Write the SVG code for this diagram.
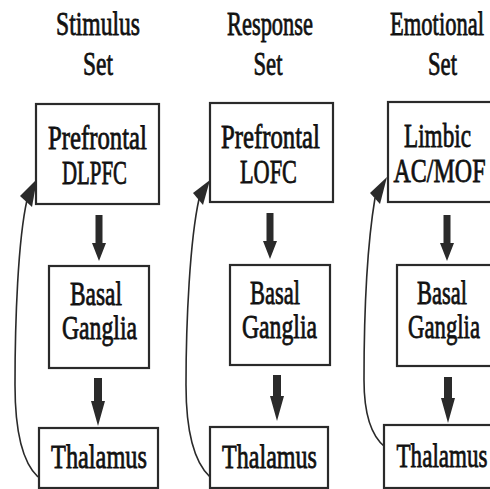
<svg xmlns="http://www.w3.org/2000/svg" width="490" height="489" viewBox="0 0 490 489">
<style>
text{font-family:"Liberation Serif","Times New Roman",serif;font-size:34px;fill:#111;text-anchor:middle;stroke:#111;stroke-width:0.8}
.box{fill:#fff;stroke:#2a2a2a;stroke-width:2.2}
.curve{fill:none;stroke:#2a2a2a;stroke-width:1.6}
.arr{fill:#2a2a2a}
</style>
<rect width="490" height="489" fill="#fff"/>
<g id="headers">
<text transform="translate(98,35) scale(0.695,1)">Stimulus</text>
<text transform="translate(98,75) scale(0.69,1)">Set</text>
<text transform="translate(270,35) scale(0.66,1)">Response</text>
<text transform="translate(268,75) scale(0.667,1)">Set</text>
<text transform="translate(437,35) scale(0.663,1)">Emotional</text>
<text transform="translate(442.5,75) scale(0.667,1)">Set</text>
</g>
<g id="connectors">
<path class="curve" d="M38,477 C22,462 15,430 15,385 C15,320 18,240 27,200"/>
<polygon class="arr" points="37,179 20,196 32,207"/>
<path class="curve" d="M210,477 C194,462 186,430 186,385 C186,320 190,240 199,199"/>
<polygon class="arr" points="210,180 193,193 203,205"/>
<path class="curve" d="M385,447 C370,435 364,410 364,380 C364,310 368,240 375,198"/>
<polygon class="arr" points="387,177 370,193 380,204"/>
<polygon class="arr" points="95.5,215 102.5,215 102.5,243 106,243 99,261 92,243 95.5,243"/>
<polygon class="arr" points="94,378 102,378 102,401 105,401 98,426 91,401 94,401"/>
<polygon class="arr" points="266.5,213 273.5,213 273.5,241 277,241 270,259 263,241 266.5,241"/>
<polygon class="arr" points="273,375 281,375 281,396 284,396 277,421 270,396 273,396"/>
<polygon class="arr" points="443.5,215 450.5,215 450.5,243 454,243 447,261 440,243 443.5,243"/>
<polygon class="arr" points="444,377 452,377 452,398 455,398 448,423 441,398 444,398"/>
</g>
<g id="stim-pfc">
<rect class="box" x="36" y="104" width="123" height="100"/>
<text transform="translate(97.5,149) scale(0.728,1)">Prefrontal</text>
<text transform="translate(94.5,184) scale(0.614,1)">DLPFC</text>
</g>
<g id="stim-bg">
<rect class="box" x="49" y="266" width="100" height="102"/>
<text transform="translate(96,305) scale(0.689,1)">Basal</text>
<text transform="translate(99.5,339) scale(0.697,1)">Ganglia</text>
</g>
<g id="stim-th">
<rect class="box" x="39" y="428" width="119" height="60"/>
<text transform="translate(99,468) scale(0.716,1)">Thalamus</text>
</g>
<g id="resp-pfc">
<rect class="box" x="210" y="103" width="123" height="99"/>
<text transform="translate(270.5,148) scale(0.728,1)">Prefrontal</text>
<text transform="translate(268.5,183) scale(0.656,1)">LOFC</text>
</g>
<g id="resp-bg">
<rect class="box" x="230" y="265" width="100" height="100"/>
<text transform="translate(275,304) scale(0.662,1)">Basal</text>
<text transform="translate(279.5,338) scale(0.697,1)">Ganglia</text>
</g>
<g id="resp-th">
<rect class="box" x="210" y="427" width="118" height="61"/>
<text transform="translate(269.5,468) scale(0.708,1)">Thalamus</text>
</g>
<g id="emo-limbic">
<rect class="box" x="388" y="102" width="110" height="100"/>
<text transform="translate(437.5,147) scale(0.682,1)">Limbic</text>
<text transform="translate(439.5,182) scale(0.706,1)">AC/MOF</text>
</g>
<g id="emo-bg">
<rect class="box" x="397" y="265" width="100" height="101"/>
<text transform="translate(442,304) scale(0.662,1)">Basal</text>
<text transform="translate(444,338) scale(0.669,1)">Ganglia</text>
</g>
<g id="emo-th">
<rect class="box" x="384" y="425" width="113" height="63"/>
<text transform="translate(442,467) scale(0.679,1)">Thalamus</text>
</g>
</svg>
